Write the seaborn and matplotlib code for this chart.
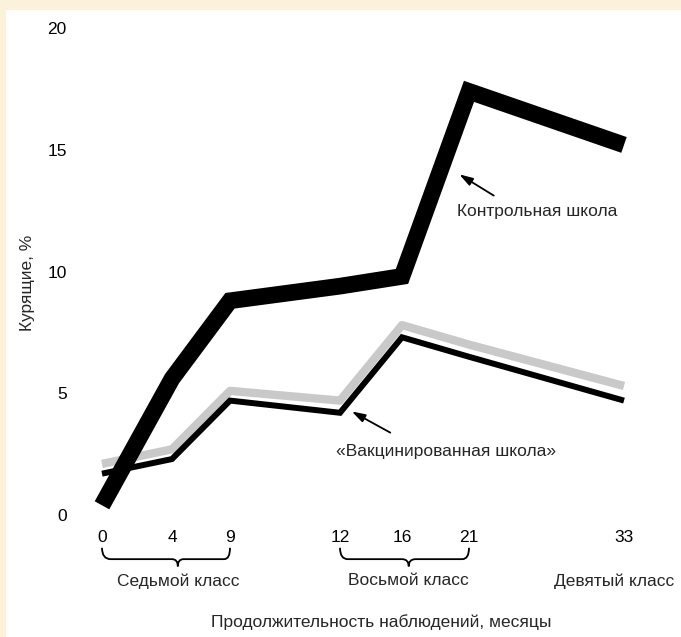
import numpy as np
import pandas as pd
import seaborn as sns
import matplotlib.pyplot as plt
from matplotlib import font_manager
from matplotlib.patches import Rectangle, PathPatch
from matplotlib.path import Path
import matplotlib.transforms as mtransforms

# Данные
months = [0, 4, 9, 12, 16, 21, 33]
control = [0.4, 5.6, 8.8, 9.4, 9.8, 17.4, 15.2]
vaccinated = [1.7, 2.3, 4.7, 4.2, 7.3, 6.5, 4.7]
vaccinated_band = [2.1, 2.7, 5.1, 4.7, 7.8, 7.0, 5.3]
y_ticks = [0, 5, 10, 15, 20]
grade_labels = ['Седьмой класс', 'Восьмой класс', 'Девятый класс']
grade_centers = [4.5, 16.5, 32.2]
grade_spans = [(0, 9), (12, 21)]

# Неравномерная шкала по оси X (как в оригинале): месяцы -> пиксели
scale_months = [-12, 0, 4, 9, 12, 16, 21, 33, 45]
scale_px = [-108, 102, 172, 230, 340, 402, 469, 624, 780]


def forward(x):
    return np.interp(x, scale_months, scale_px)


def inverse(p):
    return np.interp(p, scale_px, scale_months)


def skobka(ax, a, b, trans, y_top=-0.054, y_mid=-0.076, y_tip=-0.09, d=0.5):
    m = (a + b) / 2
    verts = [(a, y_top), (a, y_mid), (a + d, y_mid), (m - d, y_mid),
             (m, y_mid), (m, y_tip), (m, y_mid), (m + d, y_mid),
             (b - d, y_mid), (b, y_mid), (b, y_top)]
    codes = [Path.MOVETO, Path.CURVE3, Path.CURVE3, Path.LINETO,
             Path.CURVE3, Path.CURVE3, Path.CURVE3, Path.CURVE3,
             Path.LINETO, Path.CURVE3, Path.CURVE3]
    patch = PathPatch(Path(verts, codes), transform=trans, fill=False,
                      edgecolor='black', lw=1.3, clip_on=False)
    ax.add_patch(patch)


sns.set_style('white')
installed = {f.name for f in font_manager.fontManager.ttflist}
if 'Liberation Sans Narrow' in installed:
    plt.rcParams['font.family'] = ['Liberation Sans Narrow', 'DejaVu Sans']
    fs = 14
else:
    plt.rcParams['font.family'] = ['Liberation Sans', 'DejaVu Sans']
    fs = 12.5

df = pd.DataFrame({'Месяц': months, 'Контроль': control,
                   'Вакцина': vaccinated, 'Вакцина_полоса': vaccinated_band})

fig = plt.figure(figsize=(6.81, 6.37), dpi=100, facecolor='#fcf2dc')
fig.add_artist(Rectangle((6 / 681, 0), 1, 1 - 10 / 637, transform=fig.transFigure,
                         facecolor='white', edgecolor='none', zorder=-1))
ax = fig.add_axes([75 / 681, 0.1838, 585 / 681, 0.8104])
ax.set_facecolor('none')

sns.lineplot(data=df, x='Месяц', y='Вакцина_полоса', color='#c9c9c9', lw=6,
             estimator=None, sort=False, ax=ax, clip_on=False,
             solid_joinstyle='round', solid_capstyle='butt')
sns.lineplot(data=df, x='Месяц', y='Вакцина', color='black', lw=4.3,
             estimator=None, sort=False, ax=ax, clip_on=False,
             solid_joinstyle='miter', solid_capstyle='butt')
sns.lineplot(data=df, x='Месяц', y='Контроль', color='black', lw=12,
             estimator=None, sort=False, ax=ax, clip_on=False,
             solid_joinstyle='miter', solid_capstyle='butt')

ax.set_xscale('function', functions=(forward, inverse))
ax.set_xlim(inverse(75), inverse(660))
ax.set_ylim(-0.2, 21)

ax.set_xticks(months)
ax.set_xticklabels([str(m) for m in months])
ax.set_yticks(y_ticks)
ax.set_yticklabels([str(v) for v in y_ticks])
ax.tick_params(axis='both', length=0, labelsize=fs, colors='black')
ax.tick_params(axis='x', pad=7)
ax.tick_params(axis='y', pad=6)
for s in ax.spines.values():
    s.set_visible(False)

ax.set_xlabel('Продолжительность наблюдений, месяцы', fontsize=fs)
ax.xaxis.set_label_coords(0.523, -0.182)
ax.set_ylabel('Курящие, %', fontsize=fs)
ax.yaxis.set_label_coords(-0.068, 0.459)

# Скобки и подписи классов
trans = mtransforms.blended_transform_factory(ax.transData, ax.transAxes)
for a, b in grade_spans:
    skobka(ax, a, b, trans)
for c, lab in zip(grade_centers, grade_labels):
    ax.text(c, -0.118, lab, transform=trans, ha='center', va='center', fontsize=fs)

# Стрелки с подписями
arrow = dict(arrowstyle='-|>,head_length=0.8,head_width=0.25', color='black', lw=1.3)
ax.annotate('', xy=(20.1, 14.05), xytext=(23.1, 13.06), arrowprops=arrow)
ax.text(26.3, 12.45, 'Контрольная школа', ha='center', va='center', fontsize=fs)
ax.annotate('', xy=(12.6, 4.31), xytext=(15.4, 3.33), arrowprops=arrow)
ax.text(19.3, 2.63, '«Вакцинированная школа»', ha='center', va='center', fontsize=fs)

fig.savefig('out.png', dpi=100, facecolor=fig.get_facecolor())
